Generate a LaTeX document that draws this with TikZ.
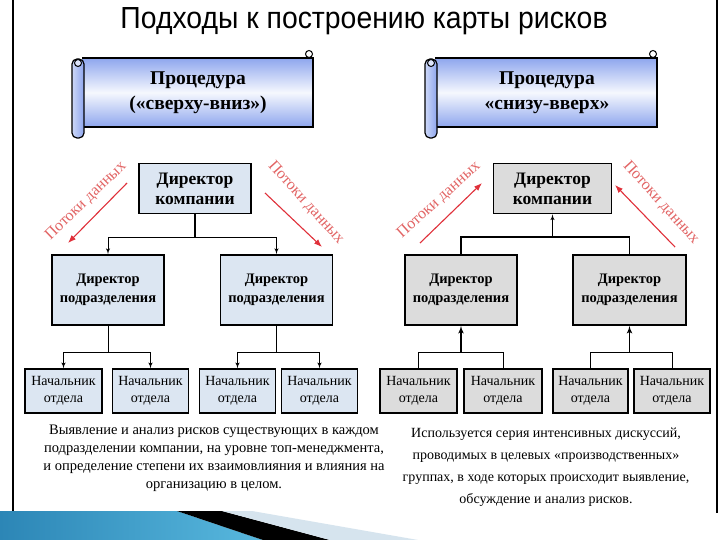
\documentclass[tikz,border=0pt]{standalone}
\usepackage{fontspec}
\setmainfont{Liberation Serif}
\newfontfamily\titlefont{Liberation Sans}
\usetikzlibrary{shapes,arrows,arrows.meta}
\definecolor{boxblue}{HTML}{DCE6F2}
\definecolor{boxgray}{HTML}{DCDCDC}
\definecolor{bannerblue}{HTML}{8EA6EE}
\definecolor{flowred}{HTML}{E0303A}
\definecolor{flowtext}{HTML}{E26464}
\definecolor{bandblue}{HTML}{2C86B6}
\definecolor{bandcyan}{HTML}{58B8DE}
\definecolor{bandlight}{HTML}{D6E4EE}
\tikzstyle{line} = [draw, line width=1pt, -latex']
\tikzstyle{flow} = [draw=flowred, line width=1.1pt, -{Latex[length=8pt,width=6pt]}]
\tikzset{
  topbox/.style={draw, line width=1.8pt, align=center, inner sep=0pt, minimum height=50pt, font=\bfseries\fontsize{17.5}{20}\selectfont},
  midbox/.style={draw, line width=1.8pt, align=center, inner sep=0pt, minimum height=70pt, font=\bfseries\fontsize{14.5}{19}\selectfont},
  lowbox/.style={draw, line width=1.4pt, align=center, inner sep=0pt, minimum height=44pt, font=\fontsize{14}{17}\selectfont},
  flowlabel/.style={text=flowtext, font=\fontsize{16}{18}\selectfont},
  bantext/.style={align=center, font=\bfseries\fontsize{19.5}{25}\selectfont},
  note/.style={align=center, inner sep=0pt, font=\fontsize{14.5}{18}\selectfont},
}
% scroll banner between x = #1 and x = #2
\newcommand{\scrollbanner}[2]{%
  \shade[top color=bannerblue, bottom color=bannerblue, middle color=white!92!bannerblue] (#1+10,58) rectangle (#2,127);
  \draw[line width=1.4pt] (#1+10,58) -- (#2,58) -- (#2,127) -- (#1+10,127);
  \draw[line width=1pt, fill=white] (#2-4,54) circle (3.5pt);
  \shade[draw, line width=1.2pt, left color=white!55!bannerblue, right color=bannerblue, rounded corners=5pt] (#1,59) rectangle (#1+12,138);
  \draw[line width=1pt, fill=white!70!bannerblue] (#1+6,63) circle (3.5pt);
}

\begin{document}
\begin{tikzpicture}[x=1pt,y=-1pt]
\useasboundingbox (0,0) rectangle (720,540);
\fill[white] (0,0) rectangle (720,540);
%
\draw[line width=1.5pt] (13,0) -- (13,511);
\draw[line width=1.5pt] (717,0) -- (717,513);
%
\shade[left color=bandblue, right color=bandcyan] (0,511) -- (177,511) -- (263,540) -- (0,540) -- cycle;
\fill[black] (177,511) -- (222,511) -- (330,540) -- (263,540) -- cycle;
\fill[bandlight] (222,511) -- (252,511) -- (418,540) -- (330,540) -- cycle;
%
\node[font=\titlefont\fontsize{30.5}{30}\selectfont, anchor=base] (title) at (364,29) {\scalebox{0.93}[1]{Подходы к построению карты рисков}};
%
\scrollbanner{72}{313}
\scrollbanner{425}{657}
\node[bantext] (lbanner) at (198,93) {Процедура\\(«сверху-вниз»)};
\node[bantext] (rbanner) at (547,93) {Процедура\\«снизу-вверх»};
%
% left: top-down
\node[topbox, fill=boxblue, minimum width=112pt] (ldir) at (195,188.5) {Директор\\компании};
\node[midbox, fill=boxblue, minimum width=112pt] (lsub1) at (108,290) {Директор\\подразделения};
\node[midbox, fill=boxblue, minimum width=112pt] (lsub2) at (276.5,290) {Директор\\подразделения};
\node[lowbox, fill=boxblue, minimum width=77pt] (lch1) at (63.5,391) {Начальник\\отдела};
\node[lowbox, fill=boxblue, minimum width=76pt] (lch2) at (150.5,391) {Начальник\\отдела};
\node[lowbox, fill=boxblue, minimum width=76pt] (lch3) at (237.5,391) {Начальник\\отдела};
\node[lowbox, fill=boxblue, minimum width=76pt] (lch4) at (319.5,391) {Начальник\\отдела};
%
\coordinate (lbus) at (195,237);
\coordinate (lbus1) at (108,352);
\coordinate (lbus2) at (276.5,352);
\draw[line width=1.8pt] (ldir.south) -- (lbus);
\path[line] (lbus) -| (lsub1.north);
\path[line] (lbus) -| (lsub2.north);
\draw[line width=1pt] (lsub1.south) -- (lbus1);
\draw[line width=1pt] (lsub2.south) -- (lbus2);
\path[line] (lbus1) -| (lch1.north);
\path[line] (lbus1) -| (lch2.north);
\path[line] (lbus2) -| (lch3.north);
\path[line] (lbus2) -| (lch4.north);
%
\coordinate (fa1) at (127,183);
\coordinate (fb1) at (68,243);
\coordinate (fa2) at (265,193);
\coordinate (fb2) at (322,247);
\path[flow] (fa1) -- (fb1);
\path[flow] (fa2) -- (fb2);
\node[flowlabel, rotate=44] (lflow1) at (86,201) {Потоки данных};
\node[flowlabel, rotate=-48] (lflow2) at (306,203) {Потоки данных};
%
% right: bottom-up
\node[topbox, fill=boxgray, minimum width=118pt] (rdir) at (552.5,188.5) {Директор\\компании};
\node[midbox, fill=boxgray, minimum width=112pt] (rsub1) at (461,290) {Директор\\подразделения};
\node[midbox, fill=boxgray, minimum width=113pt] (rsub2) at (629.5,290) {Директор\\подразделения};
\node[lowbox, fill=boxgray, minimum width=77pt] (rch1) at (418.5,391) {Начальник\\отдела};
\node[lowbox, fill=boxgray, minimum width=78pt] (rch2) at (503,391) {Начальник\\отдела};
\node[lowbox, fill=boxgray, minimum width=75pt] (rch3) at (590.5,391) {Начальник\\отдела};
\node[lowbox, fill=boxgray, minimum width=76pt] (rch4) at (672,391) {Начальник\\отдела};
%
\coordinate (rbus) at (552.5,237);
\coordinate (rbus1) at (461,352);
\coordinate (rbus2) at (629.5,352);
\path[line] (rbus) -- (rdir.south);
\draw[line width=1.4pt] (rbus) -| (rsub1.north);
\draw[line width=1.4pt] (rbus) -| (rsub2.north);
\path[line, line width=1.6pt] (rbus1) -- (rsub1.south);
\path[line, line width=1.6pt] (rbus2) -- (rsub2.south);
\draw[line width=1pt] (rbus1) -| (rch1.north);
\draw[line width=1pt] (rbus1) -| (rch2.north);
\draw[line width=1pt] (rbus2) -| (rch3.north);
\draw[line width=1pt] (rbus2) -| (rch4.north);
%
\coordinate (fa3) at (420,243);
\coordinate (fb3) at (482,183);
\coordinate (fa4) at (675,247);
\coordinate (fb4) at (615,185);
\path[flow] (fa3) -- (fb3);
\path[flow] (fa4) -- (fb4);
\node[flowlabel, rotate=42] (rflow1) at (439,200) {Потоки данных};
\node[flowlabel, rotate=-48] (rflow2) at (661,203) {Потоки данных};
%
\node[note, anchor=north] (lnote) at (214,425) {Выявление и анализ рисков существующих в каждом\\подразделении компании, на уровне топ-менеджмента,\\и определение степени их взаимовлияния и влияния на\\организацию в целом.};
\node[note, anchor=north, font=\fontsize{14}{22}\selectfont] (rnote) at (546,428) {Используется серия интенсивных дискуссий,\\проводимых в целевых «производственных»\\группах, в ходе которых происходит выявление,\\обсуждение и анализ рисков.};
\end{tikzpicture}
\end{document}
